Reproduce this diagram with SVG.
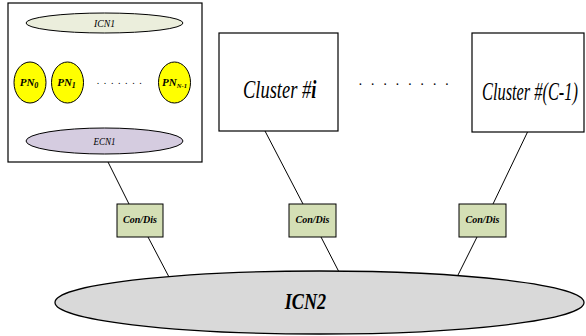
<svg xmlns="http://www.w3.org/2000/svg" width="586" height="336" viewBox="0 0 586 336">
<style>
.ln{stroke:#000;stroke-width:1;fill:none}
.box{fill:#fff;stroke:#000;stroke-width:1.2}
.cd{fill:#d4dfb5;stroke:#000;stroke-width:1}
.pn{fill:#ffff00;stroke:#000;stroke-width:1}
text{font-family:'Liberation Serif','DejaVu Serif',serif;font-style:italic;fill:#000}
.b{font-weight:bold}
</style>
<rect x="0" y="0" width="586" height="336" fill="#fff"/>
<g id="connectors">
<line class="ln" x1="53" y1="33" x2="31" y2="62"/>
<line class="ln" x1="88" y1="33" x2="68" y2="62"/>
<line class="ln" x1="153" y1="33" x2="175" y2="62"/>
<line class="ln" x1="31" y1="103" x2="53" y2="131"/>
<line class="ln" x1="68" y1="103" x2="88" y2="129"/>
<line class="ln" x1="175" y1="103" x2="153" y2="131"/>
<line class="ln" x1="104" y1="154" x2="129" y2="204"/>
<line class="ln" x1="265" y1="131" x2="303" y2="204"/>
<line class="ln" x1="528" y1="131" x2="493" y2="204"/>
<line class="ln" x1="148" y1="237" x2="169" y2="277"/>
<line class="ln" x1="321" y1="237" x2="339" y2="272"/>
<line class="ln" x1="477" y1="237" x2="457" y2="277"/>
</g>
<g id="cluster0">
<rect class="box" x="8" y="3" width="194" height="159"/>
</g>
<g id="icn1">
<ellipse cx="104.5" cy="23" rx="78.5" ry="10" fill="#ebeedc" stroke="#000" stroke-width="1"/>
<text x="104.5" y="27" font-size="11" text-anchor="middle" textLength="21" lengthAdjust="spacingAndGlyphs">ICN1</text>
</g>
<g id="ecn1">
<ellipse cx="104.5" cy="141" rx="78.5" ry="13" fill="#d5cce0" stroke="#000" stroke-width="1"/>
<text x="104.5" y="145" font-size="11" text-anchor="middle" textLength="22" lengthAdjust="spacingAndGlyphs">ECN1</text>
</g>
<g id="pn0">
<ellipse class="pn" cx="30" cy="82.5" rx="16" ry="20.5"/>
<text class="b" x="29" y="86" font-size="11" text-anchor="middle">PN<tspan font-size="8" dy="2">0</tspan></text>
</g>
<g id="pn1">
<ellipse class="pn" cx="67.5" cy="82.5" rx="16" ry="20.5"/>
<text class="b" x="66.5" y="86" font-size="11" text-anchor="middle">PN<tspan font-size="8" dy="2">1</tspan></text>
</g>
<g id="pnN">
<ellipse class="pn" cx="174.5" cy="82.5" rx="16" ry="20.5"/>
<text class="b" x="174.5" y="86" font-size="11" text-anchor="middle">PN<tspan font-size="6.5" dy="2">N-1</tspan></text>
</g>
<text x="97" y="84" font-size="10" textLength="45" lengthAdjust="spacing">. . . . . . .</text>
<g id="clusterI">
<rect class="box" x="219" y="33" width="119" height="98"/>
<text transform="translate(243,98) scale(0.74,1)" x="0" y="0" font-size="25" textLength="99" lengthAdjust="spacingAndGlyphs">Cluster #<tspan font-weight="bold">i</tspan></text>
</g>
<text x="359" y="85" font-size="14" textLength="90" lengthAdjust="spacing">. . . . . . . .</text>
<g id="clusterC">
<rect class="box" x="472" y="33" width="112" height="99"/>
<text transform="translate(482,100) scale(0.657,1)" x="0" y="0" font-size="25" textLength="146" lengthAdjust="spacingAndGlyphs">Cluster #(C-1)</text>
</g>
<g id="cd1">
<rect class="cd" x="117" y="204" width="46" height="33"/>
<text class="b" x="140" y="223" font-size="10" text-anchor="middle" textLength="34" lengthAdjust="spacingAndGlyphs">Con/Dis</text>
</g>
<g id="cd2">
<rect class="cd" x="289" y="204" width="47" height="33"/>
<text class="b" x="312.5" y="223" font-size="10" text-anchor="middle" textLength="34" lengthAdjust="spacingAndGlyphs">Con/Dis</text>
</g>
<g id="cd3">
<rect class="cd" x="459" y="204" width="47" height="33"/>
<text class="b" x="482.5" y="223" font-size="10" text-anchor="middle" textLength="34" lengthAdjust="spacingAndGlyphs">Con/Dis</text>
</g>
<g id="icn2">
<ellipse cx="319.5" cy="302.5" rx="264.5" ry="31.5" fill="#d9d9d9" stroke="#000" stroke-width="1.3"/>
<text class="b" transform="translate(305.5,309) scale(0.79,1)" x="0" y="0" font-size="23" text-anchor="middle">ICN2</text>
</g>
</svg>
